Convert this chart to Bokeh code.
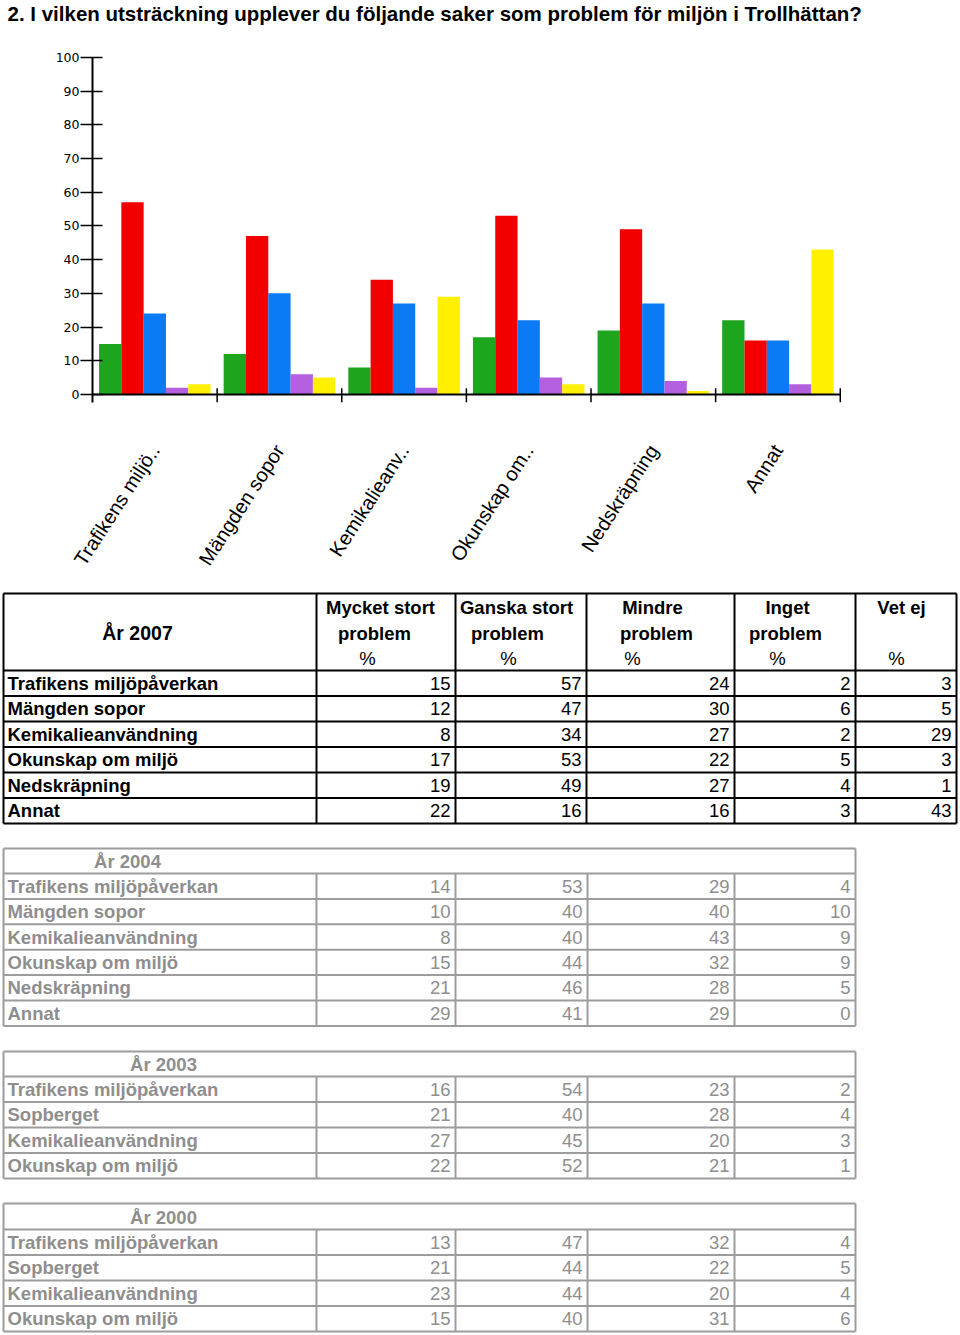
import math
from bokeh.plotting import figure
from bokeh.models import Range1d, FixedTicker, ColumnDataSource
from bokeh.layouts import column
from bokeh.transform import dodge
from bokeh.core.properties import value
from bokeh.embed import file_html
from bokeh.resources import INLINE

# ---------------- data ----------------
title_text = "2. I vilken utsträckning upplever du följande saker som problem för miljön i Trollhättan?"
chart_labels = ["Trafikens miljö..", "Mängden sopor", "Kemikalieanv..", "Okunskap om..", "Nedskräpning", "Annat"]
series_keys = ["mycket", "ganska", "mindre", "inget", "vetej"]
series_colors = ["#1ea51e", "#f20000", "#0a7af5", "#b35fe0", "#fff000"]
mycket_2007 = [15, 12, 8, 17, 19, 22]
ganska_2007 = [57, 47, 34, 53, 49, 16]
mindre_2007 = [24, 30, 27, 22, 27, 16]
inget_2007 = [2, 6, 2, 5, 4, 3]
vetej_2007 = [3, 5, 29, 3, 1, 43]
y_ticks = list(range(0, 101, 10))

year_2007 = "År 2007"
col_headers_2007 = [["Mycket stort", "problem", "%"], ["Ganska stort", "problem", "%"],
                    ["Mindre", "problem", "%"], ["Inget", "problem", "%"], ["Vet ej", "", "%"]]
rows_2007 = ["Trafikens miljöpåverkan", "Mängden sopor", "Kemikalieanvändning",
             "Okunskap om miljö", "Nedskräpning", "Annat"]

year_2004 = "År 2004"
rows_2004 = ["Trafikens miljöpåverkan", "Mängden sopor", "Kemikalieanvändning",
             "Okunskap om miljö", "Nedskräpning", "Annat"]
mycket_2004 = [14, 10, 8, 15, 21, 29]
ganska_2004 = [53, 40, 40, 44, 46, 41]
mindre_2004 = [29, 40, 43, 32, 28, 29]
inget_2004 = [4, 10, 9, 9, 5, 0]

year_2003 = "År 2003"
rows_2003 = ["Trafikens miljöpåverkan", "Sopberget", "Kemikalieanvändning", "Okunskap om miljö"]
mycket_2003 = [16, 21, 27, 22]
ganska_2003 = [54, 40, 45, 52]
mindre_2003 = [23, 28, 20, 21]
inget_2003 = [2, 4, 3, 1]

year_2000 = "År 2000"
rows_2000 = ["Trafikens miljöpåverkan", "Sopberget", "Kemikalieanvändning", "Okunskap om miljö"]
mycket_2000 = [13, 21, 23, 15]
ganska_2000 = [47, 44, 44, 40]
mindre_2000 = [32, 22, 20, 31]
inget_2000 = [4, 5, 4, 6]

FONT = "Liberation Sans"
TSIZE = "18.5px"

# ---------------- title strip ----------------
tt = figure(width=960, height=30, x_range=Range1d(0, 960), y_range=Range1d(30, 0),
            output_backend="svg", toolbar_location=None, min_border=0, frame_align=False,
            x_axis_location=None, y_axis_location=None)
tt.grid.visible = False
tt.outline_line_color = None
tt.text(x=[7], y=[13], text=[title_text], text_font=value(FONT), text_font_size="20.5px",
        text_font_style="bold", text_color="black", text_align="left", text_baseline="middle")

# ---------------- chart ----------------
n = len(chart_labels)
idx = list(range(n))
src = ColumnDataSource(dict(idx=idx, mycket=mycket_2007, ganska=ganska_2007, mindre=mindre_2007,
                            inget=inget_2007, vetej=vetej_2007))

p = figure(width=960, height=560, x_range=Range1d(-0.5, n - 0.45), y_range=Range1d(-2.4, 100),
           output_backend="svg", toolbar_location=None, frame_align=False,
           min_border_left=92, min_border_right=114, min_border_top=27, min_border_bottom=188)
p.grid.visible = False
p.outline_line_color = None
p.background_fill_color = "white"

p.yaxis.ticker = FixedTicker(ticks=y_ticks)
p.yaxis.major_tick_in = 10
p.yaxis.major_tick_out = 12
p.yaxis.axis_line_width = 2
p.yaxis.major_tick_line_width = 1.5
p.yaxis.minor_tick_line_color = None
p.yaxis.major_label_text_font = "DejaVu Sans"
p.yaxis.major_label_text_font_size = "12.5px"
p.yaxis.major_label_text_color = "black"
p.yaxis.major_label_standoff = 1

p.xaxis.ticker = FixedTicker(ticks=idx)
p.xaxis.major_label_overrides = {i: lab for i, lab in enumerate(chart_labels)}
p.xaxis.major_label_orientation = math.radians(57)
p.xaxis.axis_line_color = None
p.xaxis.major_tick_line_color = None
p.xaxis.minor_tick_line_color = None
p.xaxis.major_label_standoff = 38
p.xaxis.major_label_text_font = FONT
p.xaxis.major_label_text_font_size = "20px"
p.xaxis.major_label_text_color = "black"

bw = 0.179
for j, (key, col) in enumerate(zip(series_keys, series_colors)):
    p.vbar(x=dodge("idx", (j - 2) * bw, range=p.x_range), top=key, bottom=0, width=bw,
           source=src, fill_color=col, line_color=None)

p.segment(x0=[-0.5], x1=[n - 0.5], y0=[0], y1=[0], line_color="black", line_width=2)
seps = [i + 0.5 for i in idx]
p.segment(x0=seps, x1=seps, y0=[-2.4] * n, y1=[1.8] * n, line_color="black", line_width=1.5)

# ---------------- tables ----------------
t = figure(width=960, height=744, x_range=Range1d(0, 960), y_range=Range1d(1334, 590),
           output_backend="svg", toolbar_location=None, min_border=0, frame_align=False,
           x_axis_location=None, y_axis_location=None)
t.grid.visible = False
t.outline_line_color = None


def draw_table(top, header_h, row_h, cols, labels, value_cols, color, line_color,
               header_inner_lines):
    nrows = len(labels)
    bottom = top + header_h + nrows * row_h
    hy = [top, top + header_h] + [top + header_h + k * row_h for k in range(1, nrows + 1)]
    t.segment(x0=[cols[0]] * len(hy), x1=[cols[-1]] * len(hy), y0=hy, y1=hy,
              line_color=line_color, line_width=2)
    vx0 = [cols[0], cols[-1]]
    vy0 = [top, top]
    for c in cols[1:-1]:
        vx0.append(c)
        vy0.append(top if header_inner_lines else top + header_h)
    t.segment(x0=vx0, x1=vx0, y0=vy0, y1=[bottom] * len(vx0), line_color=line_color, line_width=2)
    cy = [top + header_h + (k + 0.5) * row_h for k in range(nrows)]
    t.text(x=[7] * nrows, y=cy, text=labels, text_font=value(FONT), text_font_size=TSIZE,
           text_font_style="bold", text_color=color, text_align="left", text_baseline="middle")
    for ci, vals in enumerate(value_cols):
        xr = cols[ci + 2] - 5
        t.text(x=[xr] * nrows, y=cy, text=[str(v) for v in vals], text_font=value(FONT),
               text_font_size=TSIZE, text_color=color, text_align="right", text_baseline="middle")


# 2007 table
cols_2007 = [3, 316, 455, 586, 734, 855, 956]
draw_table(593, 77, 25.5, cols_2007, rows_2007,
           [mycket_2007, ganska_2007, mindre_2007, inget_2007, vetej_2007],
           "black", "black", True)
t.text(x=[137], y=[632], text=[year_2007], text_font=value(FONT), text_font_size="19.5px",
       text_font_style="bold", text_color="black", text_align="center", text_baseline="middle")
hdr_x = [[380, 374, 367], [516, 507, 508], [652, 656, 632], [787, 785, 777], [901, 901, 896]]
hdr_y = [607, 633, 658]
hx, hy2, ht, hs = [], [], [], []
for ci, lines in enumerate(col_headers_2007):
    for li, txt in enumerate(lines):
        if txt:
            hx.append(hdr_x[ci][li]); hy2.append(hdr_y[li]); ht.append(txt)
            hs.append("normal" if txt == "%" else "bold")
hsrc = ColumnDataSource(dict(x=hx, y=hy2, text=ht, style=hs))
t.text(x="x", y="y", text="text", text_font_style="style", source=hsrc, text_font=value(FONT),
       text_font_size=TSIZE, text_color="black", text_align="center", text_baseline="middle")

GRAY_T = "#8e8e8e"
GRAY_L = "#9c9c9c"
cols_g = [3, 316, 455, 587, 734, 855]
draw_table(848, 25, 25.4, cols_g, rows_2004, [mycket_2004, ganska_2004, mindre_2004, inget_2004],
           GRAY_T, GRAY_L, False)
draw_table(1051, 25, 25.5, cols_g, rows_2003, [mycket_2003, ganska_2003, mindre_2003, inget_2003],
           GRAY_T, GRAY_L, False)
draw_table(1203, 26, 25.5, cols_g, rows_2000, [mycket_2000, ganska_2000, mindre_2000, inget_2000],
           GRAY_T, GRAY_L, False)
t.text(x=[127, 163, 163], y=[860.5, 1064, 1216.5], text=[year_2004, year_2003, year_2000],
       text_font=value(FONT), text_font_size=TSIZE, text_font_style="bold", text_color=GRAY_T,
       text_align="center", text_baseline="middle")

layout = column(tt, p, t, spacing=0)
open("out.html", "w").write(file_html(layout, INLINE))
